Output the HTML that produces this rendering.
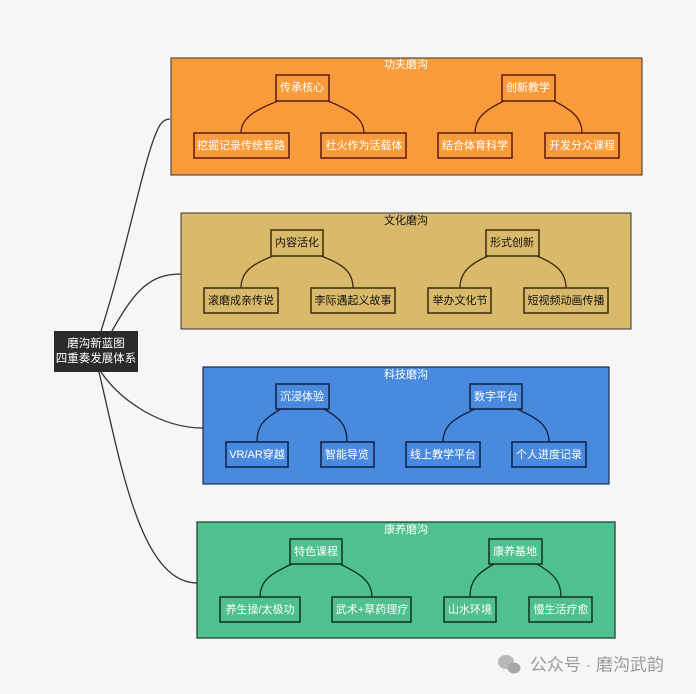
<!DOCTYPE html>
<html><head><meta charset="utf-8"><style>
html,body{margin:0;padding:0;background:#f6f6f6;}
svg{display:block}
text{font-family:"Liberation Sans","Noto Sans CJK SC",sans-serif;font-size:11px;text-anchor:middle;dominant-baseline:central}
</style></head><body>
<svg width="696" height="694" viewBox="0 0 696 694">
<rect width="696" height="694" fill="#f6f6f6"/>
<g fill="none" stroke="#333" stroke-width="1.3">
<path d="M101 331 C130 240,145 150,160 125 Q164 119,170 119"/>
<path d="M112 331 C135 290,150 274,181 274"/>
<path d="M101 372 C120 400,160 428,203 428"/>
<path d="M99 372 C120 460,140 583,197 583"/>
</g>
<rect x="54" y="331" width="84" height="41" fill="#2b2b2b"/>
<text x="96" y="344" fill="#fff" style="font-size:11.5px">磨沟新蓝图</text>
<text x="96" y="359" fill="#fff" style="font-size:11.5px">四重奏发展体系</text>

<rect x="171" y="58" width="471" height="117" fill="#f99b3b" stroke="#333" stroke-width="1"/>
<text x="406" y="65" fill="#fff">功夫磨沟</text>
<g fill="none" stroke="#5a1a10" stroke-width="1.3">
<path d="M278 101 C255 110,241 118,241 133"/><path d="M328 101 C350 110,364 118,364 133"/>
<path d="M504 101 C485 110,475 118,475 133"/><path d="M554 101 C572 110,582 118,582 133"/>
</g>
<g fill="#f99b3b" stroke="#5a1a10" stroke-width="1.5">
<rect x="276" y="75" width="53" height="26"/><rect x="502" y="75" width="53" height="26"/>
<rect x="194" y="133" width="95" height="25"/><rect x="321" y="133" width="85" height="25"/>
<rect x="438" y="133" width="74" height="25"/><rect x="545" y="133" width="74" height="25"/>
</g>
<g fill="#fff">
<text x="302" y="88">传承核心</text><text x="528" y="88">创新教学</text>
<text x="241" y="146">挖掘记录传统套路</text><text x="364" y="146">社火作为活载体</text>
<text x="475" y="146">结合体育科学</text><text x="582" y="146">开发分众课程</text>
</g>

<rect x="181" y="213" width="450" height="116" fill="#d9ba6b" stroke="#333" stroke-width="1"/>
<text x="406" y="221" fill="#111">文化磨沟</text>
<g fill="none" stroke="#3a2a10" stroke-width="1.3">
<path d="M273 256 C252 264,241 272,241 288"/><path d="M321 256 C343 264,353 272,353 288"/>
<path d="M488 256 C470 264,460 272,460 288"/><path d="M537 256 C556 264,566 272,566 288"/>
</g>
<g fill="#d9ba6b" stroke="#3a2a10" stroke-width="1.5">
<rect x="271" y="230" width="52" height="26"/><rect x="486" y="230" width="53" height="26"/>
<rect x="204" y="288" width="74" height="25"/><rect x="311" y="288" width="84" height="25"/>
<rect x="428" y="288" width="63" height="25"/><rect x="524" y="288" width="84" height="25"/>
</g>
<g fill="#111">
<text x="297" y="243">内容活化</text><text x="512" y="243">形式创新</text>
<text x="241" y="301">滚磨成亲传说</text><text x="353" y="301">李际遇起义故事</text>
<text x="460" y="301">举办文化节</text><text x="566" y="301">短视频动画传播</text>
</g>

<rect x="203" y="367" width="406" height="117" fill="#4a8ade" stroke="#1a2a50" stroke-width="1.2"/>
<text x="406" y="375" fill="#fff">科技磨沟</text>
<g fill="none" stroke="#102040" stroke-width="1.3">
<path d="M281 409 C265 418,257 425,257 442"/><path d="M324 409 C340 418,347 425,347 442"/>
<path d="M475 409 C455 418,443 425,443 442"/><path d="M517 409 C537 418,549 425,549 442"/>
</g>
<g fill="#4a8ade" stroke="#102040" stroke-width="1.5">
<rect x="276" y="384" width="53" height="25"/><rect x="470" y="384" width="52" height="25"/>
<rect x="226" y="442" width="62" height="25"/><rect x="321" y="442" width="53" height="25"/>
<rect x="406" y="442" width="74" height="25"/><rect x="512" y="442" width="74" height="25"/>
</g>
<g fill="#fff">
<text x="302" y="397">沉浸体验</text><text x="496" y="397">数字平台</text>
<text x="257" y="455">VR/AR穿越</text><text x="347" y="455">智能导览</text>
<text x="443" y="455">线上教学平台</text><text x="549" y="455">个人进度记录</text>
</g>

<rect x="197" y="522" width="418" height="116" fill="#4fc08f" stroke="#1a3a28" stroke-width="1.2"/>
<text x="406" y="530" fill="#fff">康养磨沟</text>
<g fill="none" stroke="#103020" stroke-width="1.3">
<path d="M292 564 C272 573,260 580,260 597"/><path d="M340 564 C358 573,372 580,372 597"/>
<path d="M494 564 C478 573,470 580,470 597"/><path d="M537 564 C552 573,561 580,561 597"/>
</g>
<g fill="#4fc08f" stroke="#103020" stroke-width="1.5">
<rect x="290" y="539" width="52" height="25"/><rect x="489" y="539" width="53" height="25"/>
<rect x="220" y="597" width="80" height="25"/><rect x="332" y="597" width="79" height="25"/>
<rect x="444" y="597" width="52" height="25"/><rect x="529" y="597" width="63" height="25"/>
</g>
<g fill="#fff">
<text x="316" y="552">特色课程</text><text x="515" y="552">康养基地</text>
<text x="260" y="610">养生操/太极功</text><text x="372" y="610">武术+草药理疗</text>
<text x="470" y="610">山水环境</text><text x="561" y="610">慢生活疗愈</text>
</g>

<g>
<ellipse cx="506" cy="662" rx="8" ry="7" fill="#b8b8b8"/><ellipse cx="514" cy="668" rx="6.5" ry="5.5" fill="#a8a8a8"/>
</g>
<text x="597" y="665" fill="#9a9a9a" style="font-size:17px">公众号 · 磨沟武韵</text>
</svg>
</body></html>
